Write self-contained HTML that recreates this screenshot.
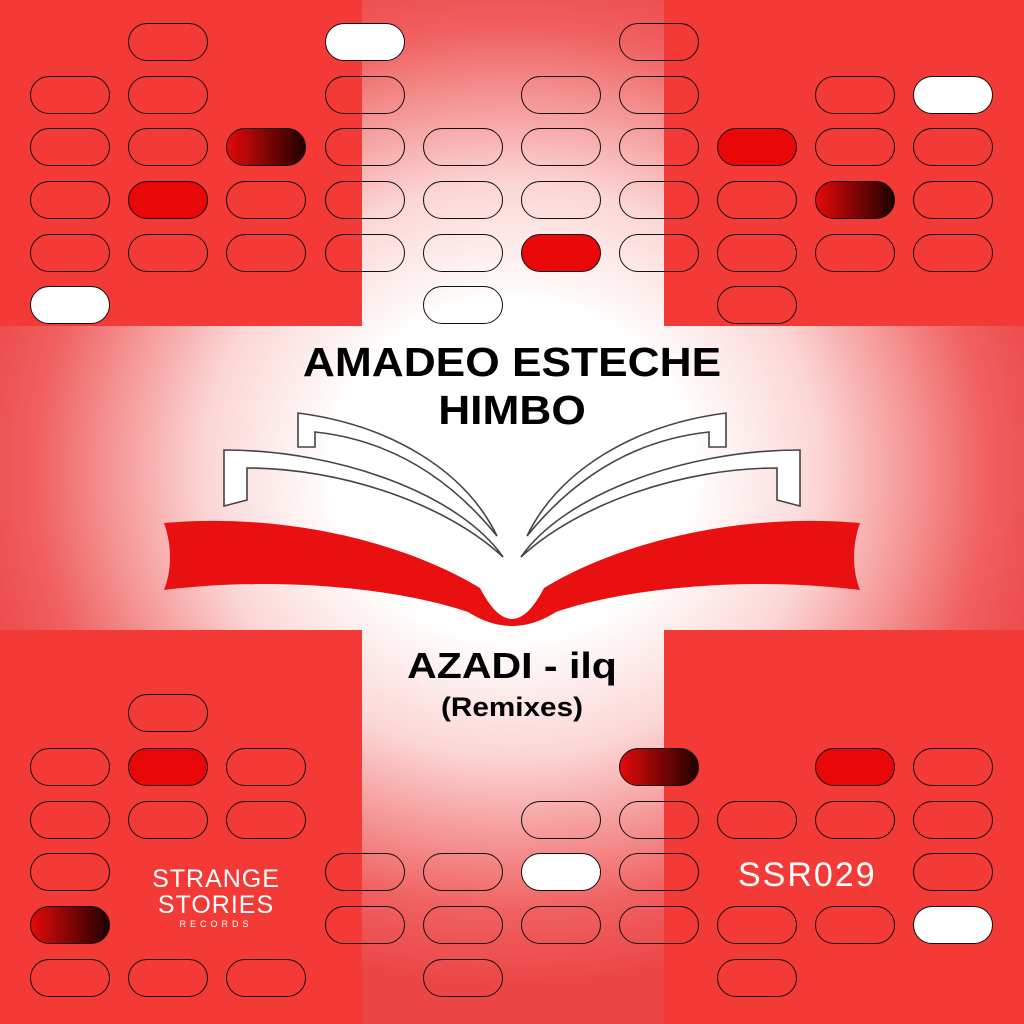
<!DOCTYPE html>
<html><head><meta charset="utf-8"><style>
html,body{margin:0;padding:0}
body{width:1024px;height:1024px;position:relative;overflow:hidden;background:#f23b36;font-family:"Liberation Sans",sans-serif}
.glow{position:absolute;left:0;top:0;width:1024px;height:1024px;background:radial-gradient(ellipse 560px 520px at 512px 470px,#fff 0,#fff 32%,#fbd6d5 55%,#f06060 85%,#ec4545 100%)}
.sq{position:absolute;background:#f33a36}
.p{position:absolute;width:80px;height:38px;border:1.6px solid #111;border-radius:20px;box-sizing:border-box}
.w{background:#fff}.r{background:#e80808}.g{background:linear-gradient(90deg,#e30a0a,#200000)}
.t{position:absolute;left:0;width:1024px;text-align:center;font-weight:bold;color:#000;white-space:nowrap}
</style></head><body>
<div class="glow"></div>
<div class="sq" style="left:0;top:0;width:362px;height:326px"></div>
<div class="sq" style="left:664px;top:0;width:360px;height:326px"></div>
<div class="sq" style="left:0;top:630px;width:362px;height:394px"></div>
<div class="sq" style="left:664px;top:630px;width:360px;height:394px"></div>
<div id="pills"></div>
<div class="t" style="top:339px;font-size:41px;transform:scaleX(1.08)">AMADEO ESTECHE</div>
<div class="t" style="top:387px;font-size:41px;transform:scaleX(1.08)">HIMBO</div>
<div class="t" style="top:645px;font-size:36px;transform:scaleX(1.14)">AZADI - ilq</div>
<div class="t" style="top:692px;font-size:27px;transform:scaleX(1.1)">(Remixes)</div>
<div style="position:absolute;left:148px;top:866px;width:136px;text-align:center;color:#fff;font-size:25px;line-height:26px;letter-spacing:1px">STRANGE<br>STORIES<div style="font-size:9px;letter-spacing:4px;line-height:12px">RECORDS</div></div>
<div style="position:absolute;left:738px;top:856px;color:#fff;font-size:34px;font-weight:300;letter-spacing:2px">SSR029</div>
<svg style="position:absolute;left:0;top:0" width="1024" height="1024">
<g fill="#fff" stroke="#444" stroke-width="1.6">
<path d="M298,447 L298,413 C390,425 465,470 497,536 C450,478 390,440 315,432 L315,447 Z"/>
<path d="M224,506 L224,450 C340,450 460,495 503,557 C445,503 340,468 247,468 L247,500 Z"/>
<path d="M726,447 L726,413 C634,425 559,470 527,536 C574,478 634,440 709,432 L709,447 Z"/>
<path d="M800,506 L800,450 C684,450 564,495 521,557 C579,503 684,468 777,468 L777,500 Z"/>
</g>
<path fill="#e81010" d="M164,523 C290,512 410,545 480,588 Q512,650 544,588 C614,545 734,512 860,523 C852,545 852,570 860,590 C740,575 620,590 556,612 Q512,640 468,612 C404,590 284,575 164,590 C172,570 172,545 164,523 Z"/>
</svg>
<script>
const X=[30,128,226,325,423,521,619,717,815,913];
const TY={42:23,95:76,147:128,200:181,253:234,305:286,713:694,767:748,820:801,872:853,925:906,978:959};
const P=[
[0,95],[0,147],[0,200],[0,253],[0,305,'w'],
[1,42],[1,95],[1,147],[1,200,'r'],[1,253],
[2,147,'g'],[2,200],[2,253],
[3,42,'w'],[3,95],[3,147],[3,200],[3,253],
[4,147],[4,200],[4,253],[4,305],
[5,95],[5,147],[5,200],[5,253,'r'],
[6,42],[6,95],[6,147],[6,200],[6,253],
[7,147,'r'],[7,200],[7,253],[7,305],
[8,95],[8,147],[8,200,'g'],[8,253],
[9,95,'w'],[9,147],[9,200],[9,253],
[0,767],[0,820],[0,872],[0,925,'g'],[0,978],
[1,713],[1,767,'r'],[1,820],[1,978],
[2,767],[2,820],[2,978],
[3,872],[3,925],
[4,872],[4,925],[4,978],
[5,820],[5,872,'w'],[5,925],
[6,767,'g'],[6,820],[6,872],[6,925],
[7,820],[7,925],[7,978],
[8,767,'r'],[8,820],[8,925],
[9,767],[9,820],[9,872],[9,925,'w']];
let h='';for(const [c,y,k] of P){h+=`<div class="p ${k||''}" style="left:${X[c]}px;top:${TY[y]}px"></div>`}
document.getElementById('pills').innerHTML=h;
</script>
</body></html>
